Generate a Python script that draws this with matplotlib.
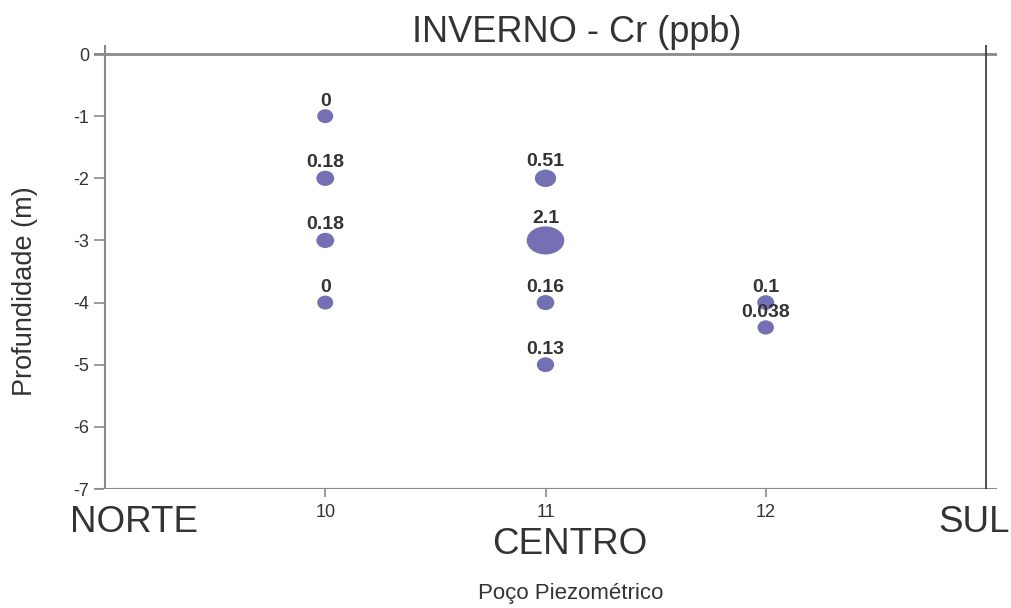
import matplotlib
matplotlib.use("Agg")
import matplotlib.pyplot as plt
from matplotlib.collections import EllipseCollection
import numpy as np

plt.rcParams['font.family'] = ['Liberation Sans', 'DejaVu Sans']

# Data
wells = [10, 10, 10, 10, 11, 11, 11, 11, 12, 12]
depths = [-1, -2, -3, -4, -2, -3, -4, -5, -4, -4.4]
values = [0, 0.18, 0.18, 0, 0.51, 2.1, 0.16, 0.13, 0.1, 0.038]
value_labels = ["0", "0.18", "0.18", "0", "0.51", "2.1", "0.16", "0.13", "0.1", "0.038"]
yticks = [0, -1, -2, -3, -4, -5, -6, -7]
xticks = [10, 11, 12]
title = "INVERNO - Cr (ppb)"
xlabel = "Poço Piezométrico"
ylabel = "Profundidade (m)"
region_labels = ["NORTE", "CENTRO", "SUL"]

W, H = 1011, 608
fig = plt.figure(figsize=(W / 100, H / 100), dpi=100)
ax = fig.add_axes([94 / W, (H - 489) / H, (997 - 94) / W, (489 - 45) / H])
ax.set_xlim(8.95, 13.05)
ax.set_ylim(-7, 0.145)
for s in ax.spines.values():
    s.set_visible(False)

ax.axhline(0, color="#8a8a8a", lw=2.0, zorder=1)
ax.axhline(-7, color="#8a8a8a", lw=1.5, zorder=1)
ax.axvline(9, color="#8a8a8a", lw=1.5, zorder=1)
ax.axvline(13, color="#333333", lw=1.2, zorder=1)

ax.set_yticks(yticks)
ax.set_yticklabels([str(t) for t in yticks])
ax.set_xticks(xticks)
ax.set_xticklabels([str(t) for t in xticks])
ax.tick_params(axis='y', direction='in', length=7.5, width=1.2, color="#8a8a8a",
               pad=3.5, labelsize=13, labelcolor="#333333")
ax.tick_params(axis='x', direction='out', length=6, width=1.2, color="#8a8a8a",
               pad=5, labelsize=13, labelcolor="#333333")

vals = np.array(values)
w_px = 16 + 10.3 * vals
h_px = 14 + 6.7 * vals
ec = EllipseCollection(w_px * 0.72, h_px * 0.72, np.zeros_like(vals), units='points',
                       offsets=np.column_stack([wells, depths]),
                       offset_transform=ax.transData,
                       facecolors="#7570b3", edgecolors="none", zorder=3)
ax.add_collection(ec)

for x, y, lab, h in zip(wells, depths, value_labels, h_px):
    ax.annotate(lab, (x, y), xytext=(0, h / 2 + 3.5), textcoords='offset pixels',
                ha='center', va='baseline', fontsize=14, fontweight='bold',
                color="#333333", zorder=4)

fig.text(577 / W, 1 - 32 / H, title, ha='center', va='center', fontsize=26, color="#333333")
fig.text(25 / W, 1 - 291 / H, ylabel, ha='center', va='center', rotation=90,
         fontsize=19.5, color="#333333")
fig.text(571 / W, 1 - 593 / H, xlabel, ha='center', va='center', fontsize=16, color="#333333")
fig.text(70 / W, 1 - 522 / H, region_labels[0], ha='left', va='center', fontsize=26.5, color="#333333")
fig.text(570 / W, 1 - 545 / H, region_labels[1], ha='center', va='center', fontsize=26.5, color="#333333")
fig.text(1010 / W, 1 - 522 / H, region_labels[2], ha='right', va='center', fontsize=26.5, color="#333333")

fig.savefig("out.png", dpi=100)
